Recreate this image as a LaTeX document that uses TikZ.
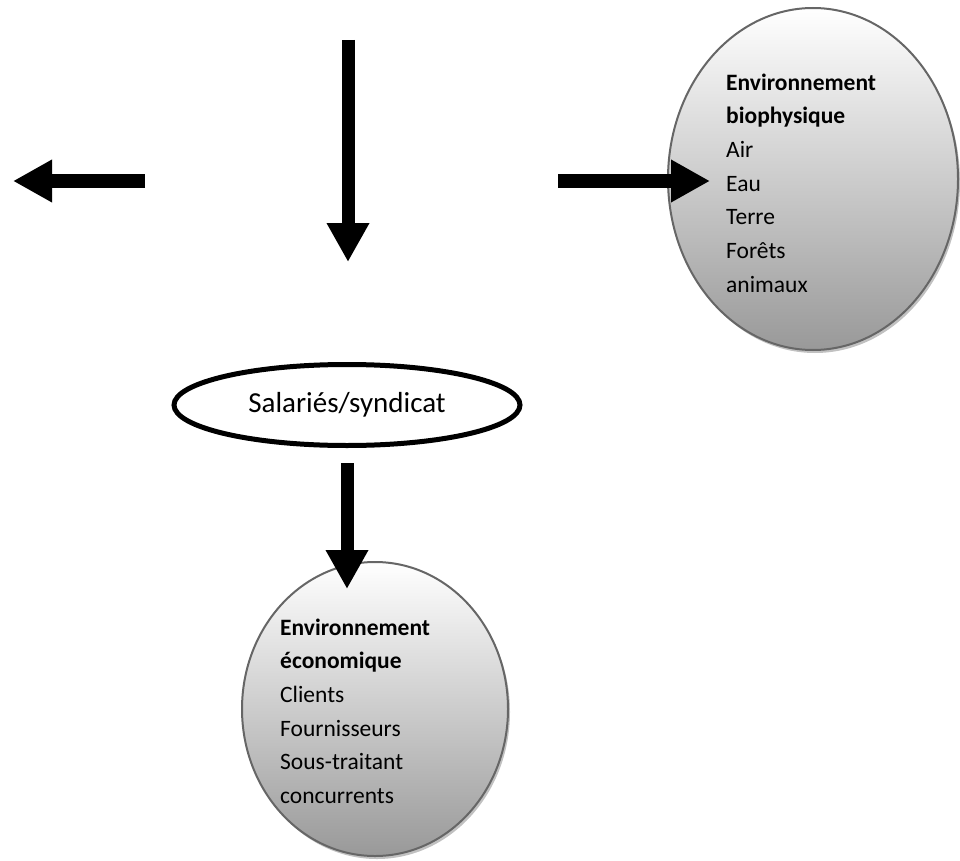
\documentclass[tikz,border=0pt]{standalone}
\usepackage{fontspec}
\setmainfont{Carlito}
\usetikzlibrary{arrows.meta,shapes.geometric,shadows}
\tikzset{
  bigarrow/.style={line width=13pt,-{Triangle[length=39pt,width=40pt]}},
  envellipse/.style={ellipse,draw=black!60,line width=2pt,inner sep=0pt,
    top color=white,bottom color=black!40,
    drop shadow={shadow xshift=2pt,shadow yshift=-3pt,fill=black!35,opacity=0.7}},
  envtext/.style={anchor=base west,align=left,inner sep=0pt,
    font=\fontsize{23.5pt}{33.7pt}\selectfont},
  salellipse/.style={ellipse,draw=black,line width=5pt,fill=white,inner sep=0pt,
    minimum width=346pt,minimum height=81pt,
    font=\fontsize{29pt}{35pt}\selectfont}
}
\begin{document}
\begin{tikzpicture}[x=1pt,y=-1pt]
\useasboundingbox (0,0) rectangle (960,861);
% nodes
\node[envellipse,minimum width=290pt,minimum height=342pt] (bio) at (813,179) {};
\node[envtext] (biotext) at (726,292.2) {\textbf{Environnement}\\\textbf{biophysique}\\Air\\Eau\\Terre\\Forêts\\animaux};
\node[salellipse] (sal) at (347,405) {Salariés/syndicat};
\node[envellipse,minimum width=266pt,minimum height=294pt] (eco) at (375,709) {};
\node[envtext] (ecotext) at (280,803.5) {\textbf{Environnement}\\\textbf{économique}\\Clients\\Fournisseurs\\Sous-traitant\\concurrents};
% free arrow ends
\coordinate (lstart) at (145,181);
\coordinate (lend) at (13,181);
\coordinate (tstart) at (348,40);
\coordinate (tend) at (348,262);
\coordinate (rstart) at (558,181);
% arrows
\draw[bigarrow] (lstart) -- (lend);
\draw[bigarrow] (tstart) -- (tend);
\draw[bigarrow] (rstart) -- ([xshift=43pt]rstart -| bio.west);
\draw[bigarrow] ([yshift=-15pt]sal.south) -- ([yshift=-28pt]eco.north -| sal.south);
\end{tikzpicture}
\end{document}
